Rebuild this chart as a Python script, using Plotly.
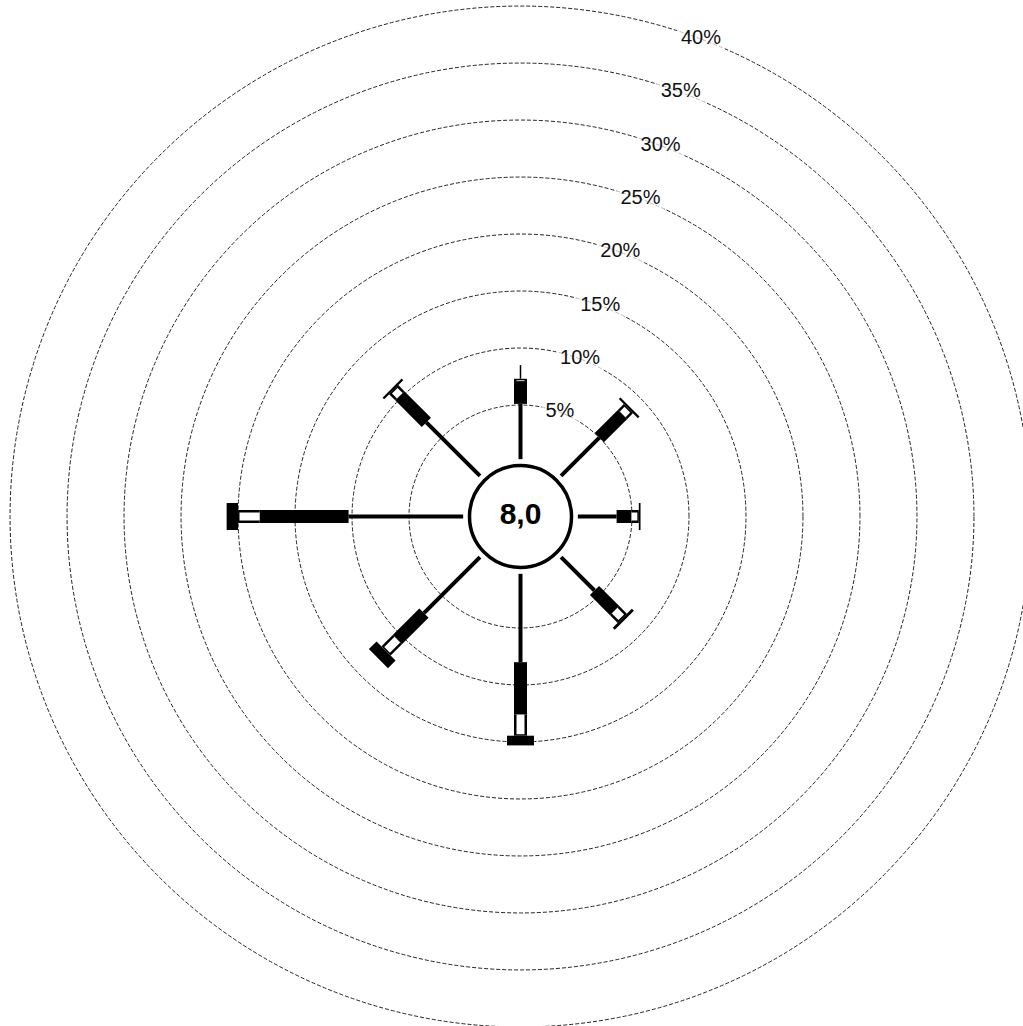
import numpy as np
import plotly.graph_objects as go

# ---- data (percent frequency per direction and speed class) ----
directions = ["N", "NE", "E", "SE", "S", "SW", "W", "NW"]
angles = [0, 45, 90, 135, 180, 225, 270, 315]
cls1 = [5.1, 5.0, 3.65, 4.4, 8.0, 7.2, 10.3, 6.9]     # thin line
cls2 = [2.0, 2.9, 1.3, 2.5, 4.6, 3.3, 7.8, 3.3]       # black bar
cls3 = [0.2, 0.7, 0.65, 0.95, 1.85, 1.4, 1.9, 0.75]   # white box
cls4 = [0.0, 0.2, 0.15, 0.25, 0.85, 0.95, 1.0, 0.2]   # wide black cap
cls5 = [1.2, 0.0, 0.0, 0.0, 0.0, 0.0, 0.0, 0.0]       # hairline
calm_text = "8,0"
ring_vals = [5, 10, 15, 20, 25, 30, 35, 40]
ring_labels = ["5%", "10%", "15%", "20%", "25%", "30%", "35%", "40%"]

r_min = -4.78
r_max = 40.18
label_angle = 20.7

classes = np.array([cls1, cls2, cls3, cls4, cls5])
cum = np.cumsum(classes, axis=0)
starts = np.vstack([np.zeros(len(angles)), cum[:-1]])


def seg_trace(k, width, color, start_off=0.0, end_off=0.0):
    r, th = [], []
    for i, a in enumerate(angles):
        if classes[k][i] <= 0:
            continue
        s = starts[k][i] + start_off
        e = cum[k][i] - end_off
        if e <= s:
            e = s + 0.02
        r += [s, e, None]
        th += [a, a, None]
    return go.Scatterpolar(r=r, theta=th, mode="lines", connectgaps=False,
                           line=dict(color=color, width=width),
                           hoverinfo="skip", showlegend=False)


fig = go.Figure()

# ring labels with white mask
fig.add_trace(go.Scatterpolar(
    r=ring_vals, theta=[label_angle] * len(ring_vals), mode="markers+text",
    text=ring_labels, textposition="middle center",
    textfont=dict(family="Liberation Sans, Arial", size=20, color="#111"),
    marker=dict(symbol="square", color="white", size=[36] + [48] * 7,
                line=dict(width=0)),
    hoverinfo="skip", showlegend=False))

# spokes
fig.add_trace(seg_trace(0, 4, "black", start_off=0.25))
fig.add_trace(seg_trace(1, 13, "black"))
fig.add_trace(seg_trace(2, 13, "black"))
fig.add_trace(seg_trace(2, 8, "white", end_off=0.13))
fig.add_trace(seg_trace(3, 27, "black"))
fig.add_trace(seg_trace(4, 1.5, "black"))

# calm circle
fig.add_trace(go.Scatterpolar(
    r=[r_min], theta=[0], mode="markers+text", text=[calm_text],
    textposition="middle center",
    textfont=dict(family="Liberation Sans, Arial", size=30, color="black",
                  weight="bold"),
    marker=dict(symbol="circle", size=102, color="white",
                line=dict(color="black", width=3.5)),
    cliponaxis=False, hoverinfo="skip", showlegend=False))

fig.update_layout(
    width=1033, height=1029,
    margin=dict(l=8, r=0, t=4, b=0, pad=0),
    paper_bgcolor="white", plot_bgcolor="white", showlegend=False,
    polar=dict(
        domain=dict(x=[0, 1], y=[0, 1]),
        bgcolor="white",
        radialaxis=dict(range=[r_min, r_max], tickvals=ring_vals,
                        showticklabels=False, ticks="", showline=False,
                        showgrid=True, gridcolor="#222", gridwidth=1,
                        griddash="4px,2px"),
        angularaxis=dict(rotation=90, direction="clockwise", showgrid=False,
                         showline=False, showticklabels=False, ticks=""),
    ),
)

fig.write_html(
    "out.html",
    config={"displayModeBar": False},
    post_script="document.body.style.margin='0';"
                "document.body.style.overflow='hidden';"
                "document.documentElement.style.overflow='hidden';",
)
